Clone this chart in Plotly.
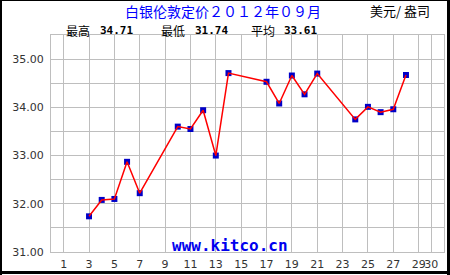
import plotly.graph_objects as go

days = [3, 4, 5, 6, 7, 10, 11, 12, 13, 14, 17, 18, 19, 20, 21, 24, 25, 26, 27, 28]
prices = [31.74, 32.08, 32.10, 32.87, 32.22, 33.60, 33.55, 33.94, 33.00, 34.71,
          34.53, 34.08, 34.66, 34.27, 34.70, 33.75, 34.01, 33.90, 33.96, 34.67]
x_ticks = [1, 3, 5, 7, 9, 11, 13, 15, 17, 19, 21, 23, 25, 27, 29, 30]
y_ticks = [31, 31.5, 32, 32.5, 33, 33.5, 34, 34.5, 35]
y_labels = ["31.00", "", "32.00", "", "33.00", "", "34.00", "", "35.00"]
title_text = "白银伦敦定价２０１２年０９月"
unit_text = "美元/ 盎司"
stats = [("最高", "34.71"), ("最低", "31.74"), ("平均", "33.61")]

W, H = 450, 275
L, R, T, B = 51, 6, 35, 23
pw, ph = W - L - R, H - T - B

def px(x):
    return (x - L) / pw

def py(y):
    return (H - B - y) / ph

fig = go.Figure()
fig.add_trace(go.Scatter(x=days, y=prices, mode="markers",
                         marker=dict(symbol="square", size=6, color="#0000C8",
                                     line=dict(width=0)),
                         hoverinfo="skip", showlegend=False))
fig.add_trace(go.Scatter(x=days, y=prices, mode="lines",
                         line=dict(color="#FF0000", width=1.5),
                         showlegend=False))

cjk = "Noto Sans CJK SC"
ann = []
ann.append(dict(text=title_text, x=px(223), y=py(0), xref="paper", yref="paper",
                showarrow=False, font=dict(family=cjk, size=14, color="#0000FF"),
                xanchor="center", yanchor="top", borderpad=0))
ann.append(dict(text=unit_text, x=px(400), y=py(0), xref="paper", yref="paper",
                showarrow=False, font=dict(family=cjk, size=13, color="#000000"),
                xanchor="center", yanchor="top", borderpad=0))
label_x = [65, 160, 250]
num_x = [99, 194, 283]
for (lab, num), lx, nx in zip(stats, label_x, num_x):
    ann.append(dict(text=lab, x=px(lx), y=py(20.8), xref="paper", yref="paper",
                    showarrow=False, font=dict(family=cjk, size=12, color="#000000"),
                    xanchor="left", yanchor="top", borderpad=0))
    ann.append(dict(text="<b>" + num + "</b>", x=px(nx), y=py(22.5), xref="paper", yref="paper",
                    showarrow=False, font=dict(family="DejaVu Sans Mono", size=11, color="#000000"),
                    xanchor="left", yanchor="top", borderpad=0))
ann.append(dict(text="<b>www.kitco.cn</b>", x=px(230), y=py(245), xref="paper", yref="paper",
                showarrow=False, font=dict(family="DejaVu Sans Mono", size=16, color="#0000EE"),
                xanchor="center", yanchor="middle"))

shapes = [
    dict(type="rect", xref="paper", yref="paper", x0=px(0), x1=px(450), y0=py(0), y1=py(1),
         fillcolor="black", line=dict(width=0), layer="above"),
    dict(type="rect", xref="paper", yref="paper", x0=px(0), x1=px(2), y0=py(0), y1=py(275),
         fillcolor="black", line=dict(width=0), layer="above"),
    dict(type="rect", xref="paper", yref="paper", x0=px(447), x1=px(450), y0=py(0), y1=py(275),
         fillcolor="black", line=dict(width=0), layer="above"),
    dict(type="rect", xref="paper", yref="paper", x0=px(0), x1=px(450), y0=py(271), y1=py(274),
         fillcolor="black", line=dict(width=0), layer="above"),
]

fig.update_layout(
    width=W, height=H,
    margin=dict(l=L, r=R, t=T, b=B, pad=0),
    paper_bgcolor="white", plot_bgcolor="white",
    annotations=ann, shapes=shapes,
    xaxis=dict(range=[0, 31], tickvals=x_ticks, ticktext=[str(v) for v in x_ticks],
               showgrid=True, gridcolor="#BEBEBE", gridwidth=1, zeroline=False,
               showline=True, linecolor="#BEBEBE", mirror=True, ticks="",
               tickangle=0, automargin=False, ticklabelstandoff=2,
               tickfont=dict(family="DejaVu Sans", size=11, color="#333333"),
               fixedrange=True),
    yaxis=dict(range=[31, 35.5], tickvals=y_ticks, ticktext=y_labels,
               showgrid=True, gridcolor="#BEBEBE", gridwidth=1, zeroline=False,
               showline=True, linecolor="#BEBEBE", mirror=True, ticks="",
               ticklabelstandoff=4, automargin=False,
               tickfont=dict(family="DejaVu Sans", size=11, color="#333333"),
               fixedrange=True),
)

fig.write_html("out.html", config={"displayModeBar": False})
